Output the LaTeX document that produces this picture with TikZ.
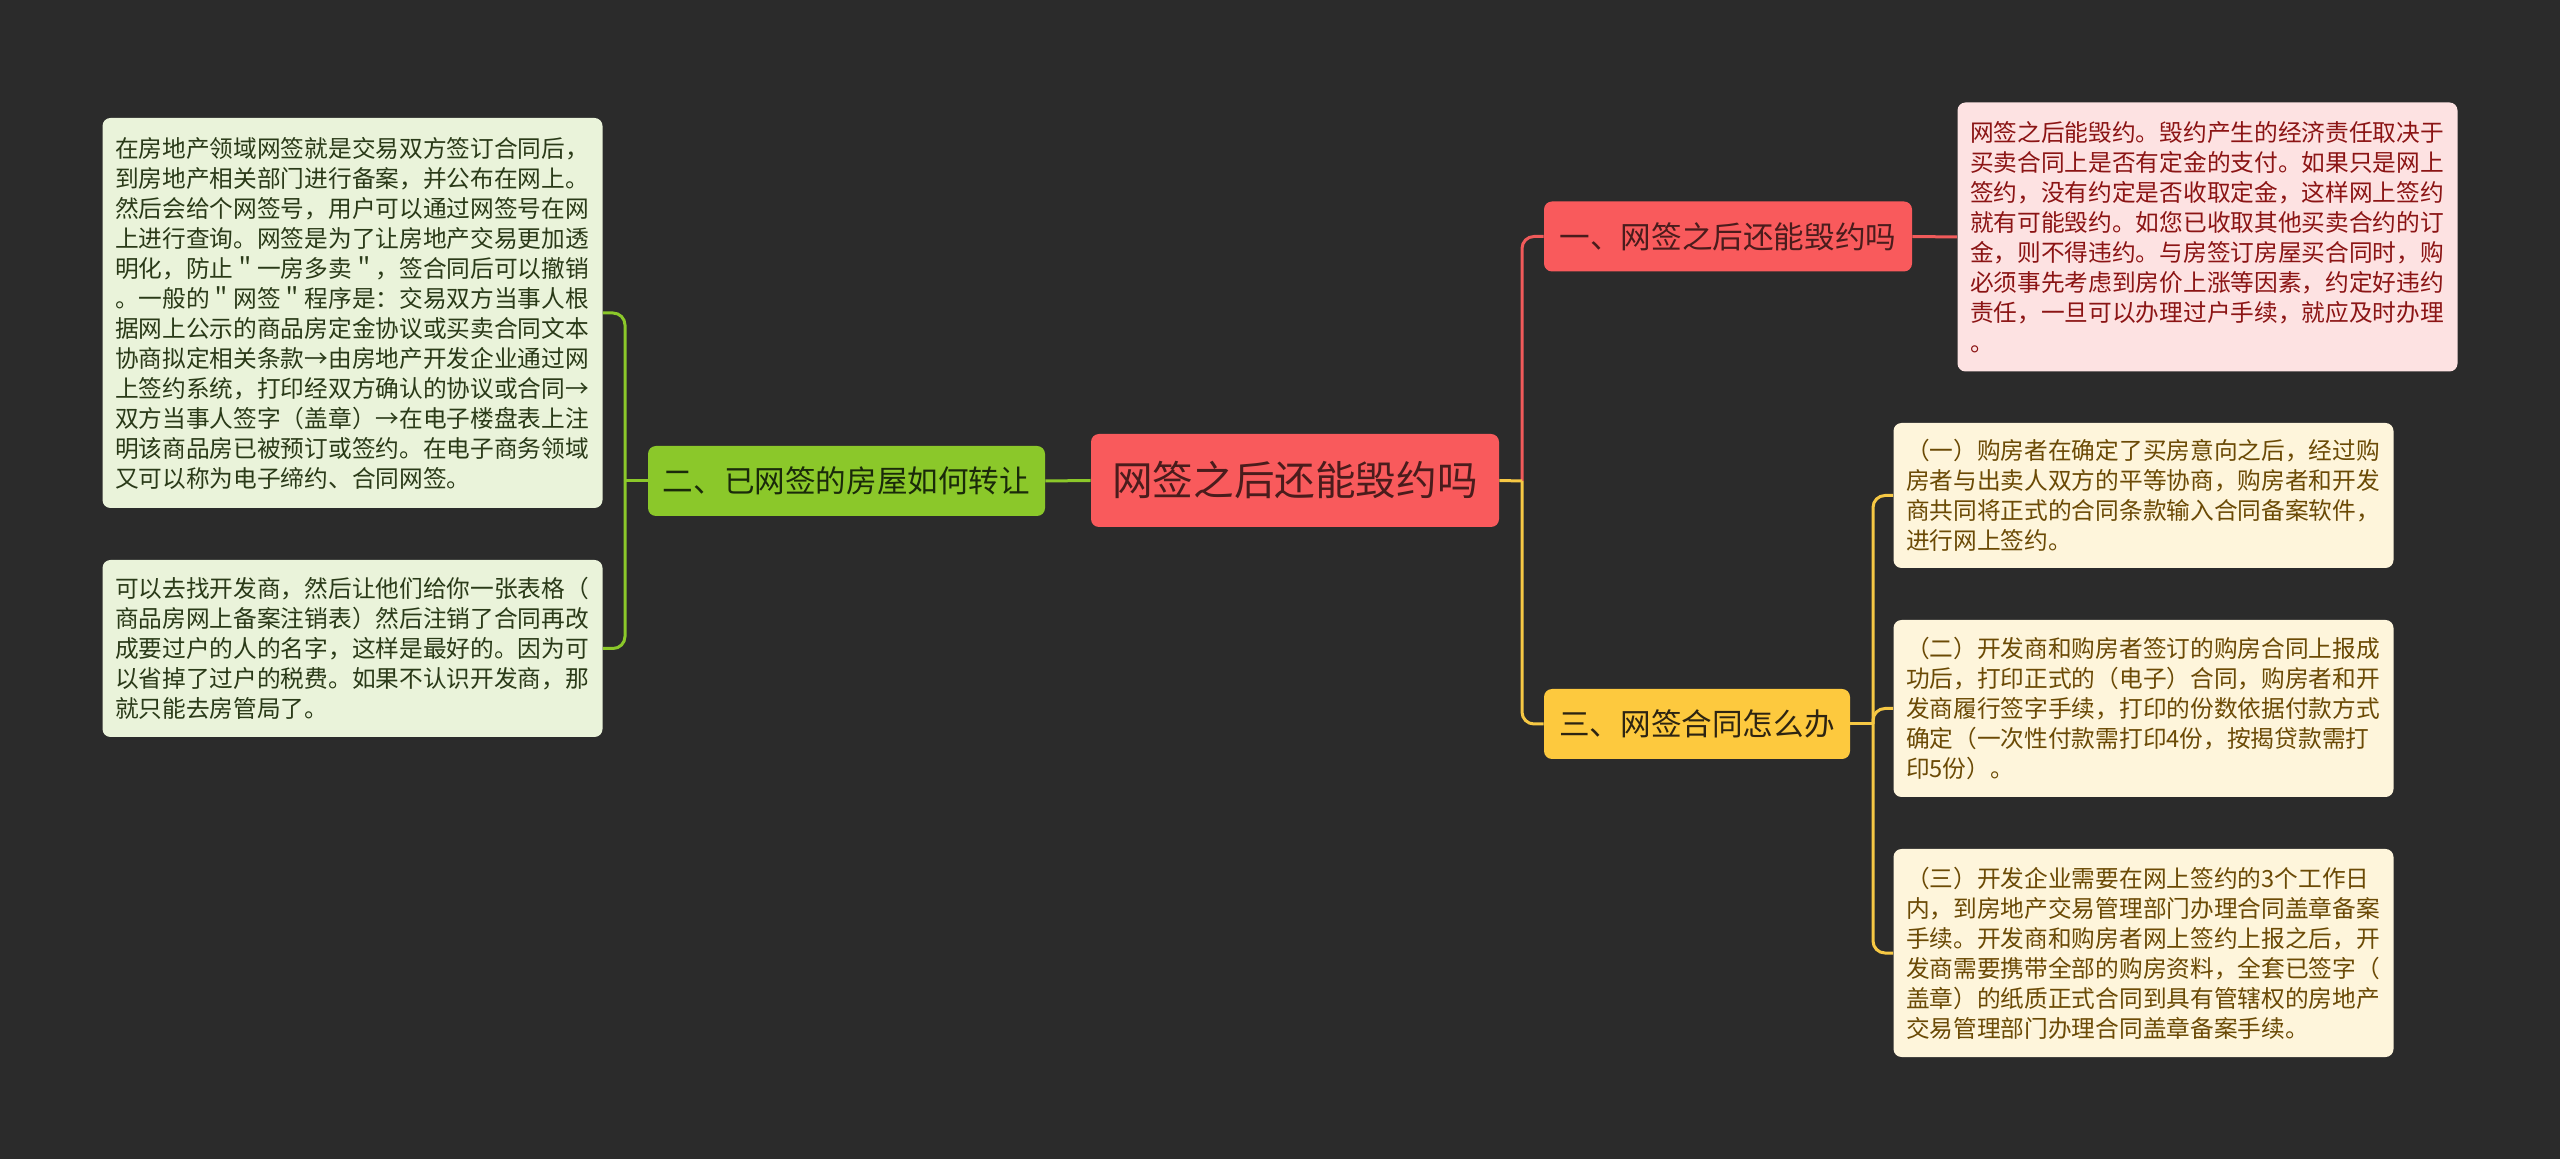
\documentclass[tikz,border=0pt]{standalone}
\usepackage{fontspec}
\setmainfont{Noto Sans CJK SC}
\newfontfamily\cjk{Noto Sans CJK SC}
\definecolor{bgc}{HTML}{2B2B2B}
\definecolor{redfill}{HTML}{F95A5C}
\definecolor{redline}{HTML}{F05A5A}
\definecolor{redbox}{HTML}{FDE2E2}
\definecolor{redtext}{HTML}{8B1414}
\definecolor{centertext}{HTML}{4A1C1C}
\definecolor{greenfill}{HTML}{8BC82A}
\definecolor{greenbox}{HTML}{EAF3DA}
\definecolor{greentext}{HTML}{2A3A18}
\definecolor{greenlabel}{HTML}{1A2A0A}
\definecolor{yelfill}{HTML}{FDC93E}
\definecolor{yelline}{HTML}{F6C844}
\definecolor{yelbox}{HTML}{FEF5DB}
\definecolor{yeltext}{HTML}{6B4A05}
\definecolor{yellabel}{HTML}{2D2412}
\tikzset{
  base/.style={rounded corners=4pt, inner sep=0pt, align=center},
  centerbox/.style={base, fill=redfill, text=centertext, minimum width=204pt, minimum height=46.5pt, font=\cjk\fontsize{20.3pt}{24pt}\selectfont},
  topic/.style={base, minimum height=35pt, font=\cjk\fontsize{15.3pt}{18pt}\selectfont},
  redtopic/.style={topic, fill=redfill, text=centertext},
  greentopic/.style={topic, fill=greenfill, text=greenlabel},
  yeltopic/.style={topic, fill=yelfill, text=yellabel},
  leaf/.style={rounded corners=4pt, inner xsep=6pt, inner ysep=0pt, align=left, text width=237.5pt, minimum width=250pt, font=\cjk\fontsize{11.85pt}{15pt}\selectfont},
  redleaf/.style={leaf, fill=redbox, text=redtext},
  greenleaf/.style={leaf, fill=greenbox, text=greentext},
  yelleaf/.style={leaf, fill=yelbox, text=yeltext},
  conn/.style={line width=1.5pt, rounded corners=6pt},
  rconn/.style={conn, draw=redline},
  gconn/.style={conn, draw=greenfill},
  yconn/.style={conn, draw=yelline}
}
\begin{document}
\begin{tikzpicture}[x=0.5pt,y=-0.5pt]
\fill[bgc] (0,0) rectangle (2560,1159);
\useasboundingbox (0,0) rectangle (2560,1159);

% main nodes
\node[centerbox] (c) at (1295,480.5) {网签之后还能毁约吗};
\node[greentopic, minimum width=198.5pt] (g) at (846.5,481) {二、已网签的房屋如何转让};
\node[redtopic, minimum width=184pt] (n1) at (1728,236.5) {一、网签之后还能毁约吗};
\node[yeltopic, minimum width=153pt] (n3) at (1697,724) {三、网签合同怎么办};

% leaves
\node[greenleaf, minimum height=195pt] (l1) at (352.5,313) {在房地产领域网签就是交易双方签订合同后，\\
到房地产相关部门进行备案，并公布在网上。\\
然后会给个网签号，用户可以通过网签号在网\\
上进行查询。网签是为了让房地产交易更加透\\
明化，防止＂一房多卖＂，签合同后可以撤销\\
。一般的＂网签＂程序是：交易双方当事人根\\
据网上公示的商品房定金协议或买卖合同文本\\
协商拟定相关条款→由房地产开发企业通过网\\
上签约系统，打印经双方确认的协议或合同→\\
双方当事人签字（盖章）→在电子楼盘表上注\\
明该商品房已被预订或签约。在电子商务领域\\
又可以称为电子缔约、合同网签。};

\node[greenleaf, minimum height=88.5pt] (l2) at (352.5,648.5) {可以去找开发商，然后让他们给你一张表格（\\
商品房网上备案注销表）然后注销了合同再改\\
成要过户的人的名字，这样是最好的。因为可\\
以省掉了过户的税费。如果不认识开发商，那\\
就只能去房管局了。};

\node[redleaf, minimum height=134.5pt] (r1) at (2207.5,237) {网签之后能毁约。毁约产生的经济责任取决于\\
买卖合同上是否有定金的支付。如果只是网上\\
签约，没有约定是否收取定金，这样网上签约\\
就有可能毁约。如您已收取其他买卖合约的订\\
金，则不得违约。与房签订房屋买合同时，购\\
必须事先考虑到房价上涨等因素，约定好违约\\
责任，一旦可以办理过户手续，就应及时办理\\
。};

\node[yelleaf, minimum height=72.5pt] (y1) at (2143.5,495.5) {（一）购房者在确定了买房意向之后，经过购\\
房者与出卖人双方的平等协商，购房者和开发\\
商共同将正式的合同条款输入合同备案软件，\\
进行网上签约。};

\node[yelleaf, minimum height=88.5pt] (y2) at (2143.5,708.5) {（二）开发商和购房者签订的购房合同上报成\\
功后，打印正式的（电子）合同，购房者和开\\
发商履行签字手续，打印的份数依据付款方式\\
确定（一次性付款需打印4份，按揭贷款需打\\
印5份）。};

\node[yelleaf, minimum height=104pt] (y3) at (2143.5,953) {（三）开发企业需要在网上签约的3个工作日\\
内，到房地产交易管理部门办理合同盖章备案\\
手续。开发商和购房者网上签约上报之后，开\\
发商需要携带全部的购房资料，全套已签字（\\
盖章）的纸质正式合同到具有管辖权的房地产\\
交易管理部门办理合同盖章备案手续。};

% junctions
\coordinate (jr) at (1522,481);
\coordinate (jg) at (625,481);
\coordinate (jy) at (1873,724);

% connectors
\draw[gconn] (c.west) -- (g.east);
\draw[gconn] (g.west) -- (jg);
\draw[gconn] (jg) -- (jg |- l1.east) -- (l1.east);
\draw[gconn] (jg) -- (jg |- l2.east) -- (l2.east);

\draw[rconn] (jr) -- (jr |- n1.west) -- (n1.west);
\draw[yconn] (c.east) -- (jr);
\draw[yconn] (jr) -- (jr |- n3.west) -- (n3.west);

\draw[rconn] (n1.east) -- (r1.west);

\draw[yconn] (n3.east) -- (jy);
\draw[yconn] (jy) -- (jy |- y1.west) -- (y1.west);
\draw[yconn] (jy) -- (jy |- y2.west) -- (y2.west);
\draw[yconn] (jy) -- (jy |- y3.west) -- (y3.west);
\end{tikzpicture}
\end{document}
